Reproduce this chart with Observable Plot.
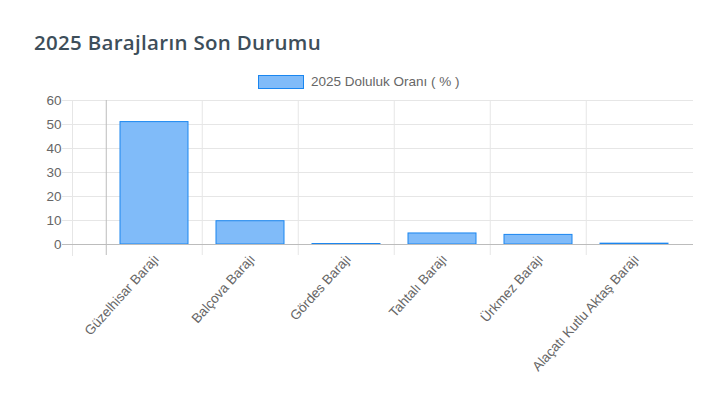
<!DOCTYPE html>
<html><head><meta charset="utf-8">
<script src="https://cdn.jsdelivr.net/npm/d3@7"></script>
<script src="https://cdn.jsdelivr.net/npm/@observablehq/plot@0.6"></script>
<style>
body{margin:0;background:#fff;width:717px;height:401px;overflow:hidden;position:relative;font-family:"Liberation Sans",Arial,sans-serif;}
#title{position:absolute;left:34px;top:28px;font-family:"Open Sans",sans-serif;font-weight:600;font-size:20.5px;color:#3d4e5a;letter-spacing:0.3px;}
#legend{position:absolute;left:258px;top:74px;font-size:13.5px;color:#666;display:flex;align-items:center;height:15px;}
#legend span.box{display:inline-block;width:44px;height:12px;background:#80bbf9;border:1px solid #1a86f0;margin-right:7px;}
#chart{position:absolute;left:0;top:92px;}
</style></head>
<body>
<div id="title"></div>
<div id="legend"><span class="box"></span><span id="legtext"></span></div>
<div id="chart"></div>
<script>
const title = "2025 Barajların Son Durumu";
const seriesName = "2025 Doluluk Oranı ( % )";
const categories = ["Güzelhisar Barajı","Balçova Barajı","Gördes Barajı","Tahtalı Barajı","Ürkmez Barajı","Alaçatı Kutlu Aktaş Barajı"];
const values = [51, 9.7, 0.2, 4.6, 4.0, 0.35];
const yTicks = [0,10,20,30,40,50,60];

document.getElementById("title").textContent = title;
document.getElementById("legtext").textContent = seriesName;

const data = categories.map((c,i)=>({cat:c, v:values[i]}));
const step = (684-105)/categories.length;

const plot = Plot.plot({
  width: 717, height: 309,
  marginLeft: 72, marginRight: 24, marginTop: 8, marginBottom: 157,
  style: {fontFamily: '"Liberation Sans", Arial, sans-serif', fontSize: "13.5px", color: "#666", background: "#fff"},
  x: {domain: categories, range: [105, 684], paddingInner: 0.29, paddingOuter: 0.145, label: null},
  y: {domain: [0, 60], ticks: yTicks, label: null},
  marks: [
    Plot.ruleY(yTicks.filter(t=>t>0), {stroke: "#e6e6e6", insetLeft: -10}),
    Plot.frame({anchor: "left", stroke: "#e6e6e6", insetBottom: -11}),
    Plot.ruleX(categories, {x: d=>d, dx: -step/2, stroke: (d,i)=> i===0 ? "#bcbcbc" : "#e6e6e6", insetBottom: -11}),
    Plot.barY(data, {x: "cat", y: "v", fill: "#80bbf9", stroke: "#1a86f0", strokeWidth: 1}),
    Plot.ruleY([0], {stroke: "#bcbcbc", insetLeft: -10}),
    Plot.axisY({ticks: yTicks, tickSize: 0, tickPadding: 11, fill: "#666", fontSize: 13.5}),
    Plot.axisX({tickSize: 0, tickRotate: -48, tickPadding: 12, fill: "#666", fontSize: 13.5, dx: 2})
  ]
});
document.getElementById("chart").appendChild(plot);
</script>
</body></html>
